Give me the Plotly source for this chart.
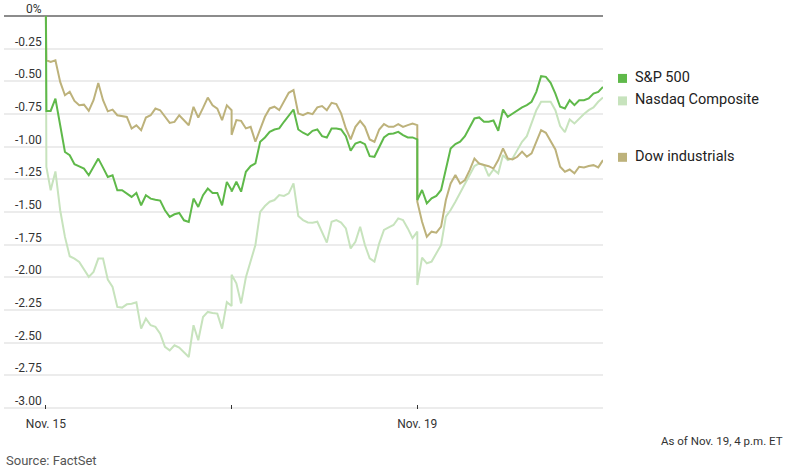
import plotly.graph_objects as go

# ---- data (percent change) ----
day_labels = ["Nov. 15", "", "Nov. 19"]
tick_minutes = [0, 390, 780]
y_ticks = [0, -0.25, -0.5, -0.75, -1.0, -1.25, -1.5, -1.75, -2.0, -2.25, -2.5, -2.75, -3.0]
y_tick_text = ["0%", "-0.25", "-0.50", "-0.75", "-1.00", "-1.25", "-1.50", "-1.75",
               "-2.00", "-2.25", "-2.50", "-2.75", "-3.00"]

# intraday sample minutes (day 1 includes prior-close point and opening tick)
day1_minutes = [0, 1] + list(range(10, 400, 10))
day_minutes = list(range(0, 400, 10))
times = day1_minutes + [390 + m for m in day_minutes] + [780 + m for m in day_minutes]

sp500 = [
    0, -0.727, -0.727, -0.633, -0.837, -1.041, -1.066, -1.135, -1.151, -1.168, -1.219,
    -1.156, -1.092, -1.161, -1.232, -1.219, -1.334, -1.334, -1.36, -1.385, -1.355,
    -1.449, -1.372, -1.398, -1.406, -1.413, -1.487, -1.538, -1.518, -1.508, -1.564,
    -1.577, -1.398, -1.462, -1.372, -1.321, -1.355, -1.355, -1.449, -1.27, -1.334,
    # Nov. 18
    -1.345, -1.269, -1.345, -1.193, -1.149, -1.129, -0.963, -0.93, -0.887, -0.869,
    -0.861, -0.81, -0.759, -0.716, -0.869, -0.894, -0.912, -0.879, -0.869, -0.92,
    -0.93, -0.861, -0.861, -0.869, -0.92, -1.032, -0.976, -0.963, -0.981, -1.073,
    -1.078, -1.006, -0.93, -0.904, -0.899, -0.887, -0.912, -0.93, -0.93, -0.945,
    # Nov. 19
    -1.409, -1.332, -1.435, -1.396, -1.378, -1.332, -1.18, -1.014, -0.981, -0.963,
    -0.92, -0.848, -0.785, -0.777, -0.81, -0.81, -0.8, -0.879, -0.716, -0.772,
    -0.746, -0.721, -0.70, -0.683, -0.657, -0.581, -0.461, -0.466, -0.512, -0.594,
    -0.695, -0.708, -0.645, -0.683, -0.645, -0.645, -0.632, -0.594, -0.581, -0.543,
]

nasdaq = [
    0, -1.156, -1.334, -1.19, -1.487, -1.691, -1.839, -1.857, -1.883, -1.941, -1.997,
    -1.959, -1.857, -1.857, -2.018, -2.074, -2.227, -2.232, -2.207, -2.202, -2.191,
    -2.393, -2.316, -2.367, -2.38, -2.431, -2.533, -2.559, -2.52, -2.538, -2.571,
    -2.61, -2.367, -2.482, -2.304, -2.265, -2.273, -2.278, -2.393, -2.19, -2.22,
    # Nov. 18
    -1.98, -2.046, -2.2, -2.0, -1.868, -1.753, -1.5, -1.455, -1.422, -1.409,
    -1.371, -1.378, -1.358, -1.282, -1.531, -1.562, -1.58, -1.582, -1.575, -1.651,
    -1.735, -1.575, -1.562, -1.582, -1.626, -1.779, -1.728, -1.613, -1.753, -1.855,
    -1.88, -1.74, -1.638, -1.618, -1.6, -1.549, -1.562, -1.626, -1.70, -1.65,
    # Nov. 19
    -2.06, -1.85, -1.893, -1.88, -1.812, -1.753, -1.536, -1.485, -1.422, -1.353,
    -1.294, -1.213, -1.149, -1.129, -1.142, -1.226, -1.175, -1.205, -1.065, -1.103,
    -1.091, -1.027, -0.963, -0.92, -0.828, -0.721, -0.657, -0.657, -0.657, -0.721,
    -0.843, -0.889, -0.792, -0.823, -0.785, -0.751, -0.721, -0.70, -0.657, -0.624,
]

dow = [
    0, -0.339, -0.352, -0.339, -0.505, -0.607, -0.58, -0.65, -0.684, -0.679, -0.727,
    -0.645, -0.513, -0.645, -0.73, -0.717, -0.76, -0.768, -0.773, -0.862, -0.837,
    -0.875, -0.778, -0.76, -0.709, -0.722, -0.768, -0.819, -0.811, -0.76, -0.798,
    -0.837, -0.696, -0.778, -0.704, -0.625, -0.684, -0.709, -0.798, -0.684, -0.722,
    # Nov. 18
    -0.91, -0.797, -0.803, -0.861, -0.849, -0.963, -0.861, -0.772, -0.708, -0.695,
    -0.721, -0.657, -0.588, -0.568, -0.746, -0.759, -0.741, -0.752, -0.70, -0.69,
    -0.721, -0.665, -0.675, -0.746, -0.861, -0.945, -0.849, -0.803, -0.849, -0.945,
    -0.963, -0.869, -0.828, -0.849, -0.849, -0.828, -0.849, -0.836, -0.823, -0.836,
    # Nov. 19
    -1.422, -1.575, -1.69, -1.651, -1.659, -1.613, -1.409, -1.282, -1.218, -1.282,
    -1.256, -1.18, -1.091, -1.13, -1.142, -1.15, -1.168, -1.103, -1.014, -1.091,
    -1.098, -1.078, -1.039, -1.078, -1.052, -0.963, -0.874, -0.894, -0.963, -1.022,
    -1.154, -1.192, -1.175, -1.205, -1.154, -1.159, -1.149, -1.142, -1.159, -1.103,
]

series_names = ["S&P 500", "Nasdaq Composite", "Dow industrials"]
colors = {"S&P 500": "#5fb94a", "Nasdaq Composite": "#c7e3bd", "Dow industrials": "#bdb27b"}

FONT = "Roboto, 'Liberation Sans', sans-serif"
TXT = "#333333"

fig = go.Figure()
for name, vals in [("Nasdaq Composite", nasdaq), ("Dow industrials", dow), ("S&P 500", sp500)]:
    fig.add_trace(go.Scatter(x=times, y=vals, mode="lines", name=name,
                             line=dict(color=colors[name], width=2),
                             hoverinfo="skip", showlegend=False))

# layout geometry (pixels)
W, H = 789, 470
ml, mr, mt, mb = 4, 186, 12, 60.5
pw, ph = W - ml - mr, H - mt - mb

def px_x(x):
    return (x - ml) / pw

def px_y(y):
    return (H - mb - y) / ph

annotations = []
for v, t in zip(y_ticks, y_tick_text):
    annotations.append(dict(xref="paper", yref="y", x=px_x(43.5), y=v, text=t,
                            xanchor="right", yanchor="bottom", yshift=-2, showarrow=False,
                            font=dict(family=FONT, size=12, color=TXT)))

legend_pos = {"S&P 500": 78.5, "Nasdaq Composite": 101, "Dow industrials": 157.5}
shapes = []
for name in series_names:
    yc = legend_pos[name]
    shapes.append(dict(type="rect", xref="paper", yref="paper",
                       x0=px_x(618), x1=px_x(627), y0=px_y(yc + 4.5), y1=px_y(yc - 4.5),
                       fillcolor=colors[name], line=dict(width=0)))
    annotations.append(dict(xref="paper", yref="paper", x=px_x(633), y=px_y(yc - 1),
                            text=name, xanchor="left", yanchor="middle", showarrow=False,
                            font=dict(family=FONT, size=14.5, color="#222222")))

annotations.append(dict(xref="paper", yref="paper", x=px_x(785), y=px_y(442),
                        text="As of Nov. 19, 4 p.m. ET", xanchor="right", yanchor="middle",
                        showarrow=False, font=dict(family=FONT, size=11.5, color=TXT)))
annotations.append(dict(xref="paper", yref="paper", x=px_x(4), y=px_y(461),
                        text="Source: FactSet", xanchor="left", yanchor="middle",
                        showarrow=False, font=dict(family=FONT, size=13, color="#555555")))

fig.update_layout(
    width=W, height=H,
    margin=dict(l=ml, r=mr, t=mt, b=mb, pad=0),
    paper_bgcolor="white", plot_bgcolor="white",
    font=dict(family=FONT, size=12, color=TXT),
    xaxis=dict(range=[-88, 1170], tickvals=tick_minutes, ticktext=day_labels,
               showgrid=False, zeroline=False, showline=False,
               ticks="inside", ticklen=4, tickcolor="#333333", tickwidth=1,
               ticklabelstandoff=6,
               tickfont=dict(family=FONT, size=12, color=TXT), fixedrange=True),
    yaxis=dict(range=[-3.008, 0.03], tickvals=y_ticks, showticklabels=False,
               showgrid=True, gridcolor="#ececec", gridwidth=1.5,
               zeroline=True, zerolinecolor="#8c8c8c", zerolinewidth=2,
               showline=False, ticks="", fixedrange=True),
    annotations=annotations,
    shapes=shapes,
)

fig.write_html("out.html", config={"displayModeBar": False},
               post_script="document.body.style.margin='0';document.body.style.padding='0';")
